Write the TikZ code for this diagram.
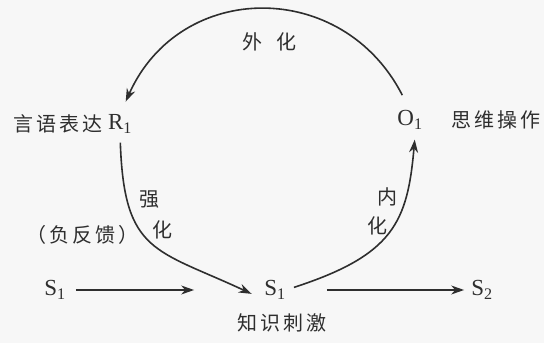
\documentclass[tikz,border=0pt]{standalone}
\usepackage{fontspec}
\setmainfont{Liberation Serif}
\newfontfamily\cjkfont[LetterSpace=15]{Noto Sans CJK SC}
\usepackage{tikz}
\usetikzlibrary{arrows.meta,positioning}
\definecolor{lcink}{HTML}{2E2E2E}
\definecolor{lcpaper}{HTML}{F7F7F7}

\begin{document}
\begin{tikzpicture}[x=1pt,y=1pt,
  sym/.style={inner sep=0pt,text=lcink,font=\fontsize{23}{26}\selectfont},
  zh/.style={inner sep=0pt,text=lcink,font=\cjkfont\fontsize{20}{24}\selectfont},
  edge/.style={draw=lcink,line width=1.6pt,-{Stealth[length=13pt,width=9pt]}}]
  \fill[lcpaper] (0,0) rectangle (544,343);
  \useasboundingbox (0,0) rectangle (544,343);
  % main symbols
  \node[sym] (R) at (120,219) {R\textsubscript{1}};
  \node[sym] (O) at (410,223) {O\textsubscript{1}};
  \node[sym] (Sa) at (55,53) {S\textsubscript{1}};
  \node[sym] (Sb) at (275,53) {S\textsubscript{1}};
  \node[sym] (Sc) at (482,53) {S\textsubscript{2}};
  % labels
  \node[zh,left=5pt of R] (Rlbl) {言语表达};
  \node[zh,right=29pt of O] (Olbl) {思维操作};
  \node[zh,below=14pt of Sb,xshift=7pt] (Sblbl) {知识刺激};
  \node[zh] (wai) at (269,301) {外\hspace{14pt}化};
  \node[zh] (qiang) at (149,143) {强};
  \node[zh] (qhua) at (162,113) {化};
  \node[zh] (fan) at (83,108) {（负反馈）};
  \node[zh] (nei) at (387,146) {内};
  \node[zh] (nhua) at (377,117) {化};
  % cycle
  \draw[edge,shorten <=17pt,shorten >=14pt] (O.north) to[out=117,in=66,looseness=1.3] (R.north);
  \draw[edge,shorten <=9pt,shorten >=13.8pt] (R.south) to[out=-88,in=155,looseness=1.4] (Sb.south west);
  \draw[edge,shorten <=8.5pt,shorten >=10pt] (Sb.east) to[out=18,in=-95,out looseness=1.4,in looseness=1.15] (O.-60);
  % input and output
  \draw[edge,shorten <=10pt,shorten >=70pt] (Sa) -- (Sb);
  \draw[edge,shorten <=41pt,shorten >=7pt] (Sb) -- (Sc);
\end{tikzpicture}
\end{document}
